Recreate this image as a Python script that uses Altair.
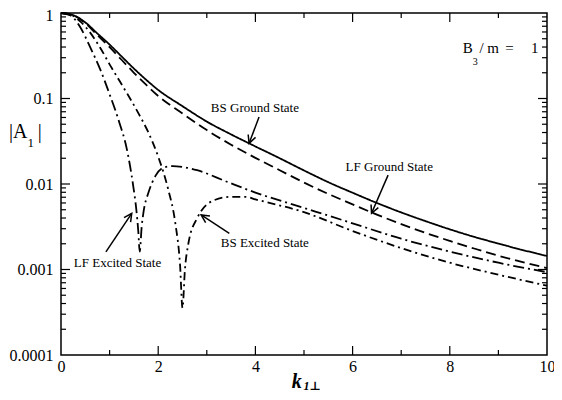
import math
import altair as alt
import pandas as pd

# ---------------- data ----------------
bs_ground_x = [0, 0.25, 0.5, 0.75, 1.0, 1.25, 1.5, 1.75, 2.0, 2.5, 3.0, 3.5, 4.0, 4.5, 5.0,
               5.5, 6.0, 6.5, 7.0, 7.5, 8.0, 8.5, 9.0, 9.5, 10]
bs_ground_y = [1, 0.944, 0.776, 0.575, 0.427, 0.309, 0.224, 0.166, 0.126, 0.0813, 0.0537,
               0.0380, 0.0275, 0.0200, 0.0144, 0.0105, 0.00790, 0.00600, 0.00465, 0.00368,
               0.00295, 0.00241, 0.00201, 0.00169, 0.00144]

lf_ground_x = [0, 0.25, 0.5, 0.75, 1.0, 1.25, 1.5, 1.75, 2.0, 2.5, 3.0, 3.5, 4.0, 4.5, 5.0,
               5.5, 6.0, 6.5, 7.0, 7.5, 8.0, 8.5, 9.0, 9.5, 10]
lf_ground_y = [1, 0.940, 0.759, 0.550, 0.398, 0.282, 0.200, 0.145, 0.107, 0.0668, 0.0427,
               0.0288, 0.0202, 0.0145, 0.0104, 0.00765, 0.00578, 0.00438, 0.00340, 0.00268,
               0.00216, 0.00176, 0.00145, 0.00122, 0.00104]

lf_excited_x = [0, 0.2, 0.4, 0.6, 0.8, 1.0, 1.2, 1.35, 1.48, 1.55, 1.59, 1.62, 1.66, 1.70,
                1.8, 1.95, 2.1, 2.3, 2.5, 2.8, 3.4, 4.0, 5.0, 6.0, 7.0, 8.0, 9.0, 10]
lf_excited_y = [1, 0.933, 0.676, 0.398, 0.224, 0.112, 0.0525, 0.0263, 0.0100, 0.0050,
                0.00282, 0.00162, 0.00316, 0.00479, 0.00794, 0.0126, 0.0155, 0.0162, 0.0158,
                0.0145, 0.0107, 0.00794, 0.00525, 0.00347, 0.00229, 0.00162, 0.00120, 0.00093]

bs_excited_x = [0, 0.2, 0.4, 0.6, 0.8, 1.0, 1.2, 1.4, 1.6, 1.8, 2.0, 2.2, 2.35, 2.45, 2.5,
                2.55, 2.62, 2.8, 3.15, 3.5, 3.8, 4.0, 5.0, 6.0, 7.0, 8.0, 9.0, 10]
bs_excited_y = [1, 0.955, 0.794, 0.589, 0.398, 0.251, 0.162, 0.105, 0.0661, 0.0398, 0.0209,
                0.0089, 0.00355, 0.00112, 0.000355, 0.0010, 0.0020, 0.00398, 0.00646, 0.00708,
                0.00708, 0.00661, 0.00468, 0.00282, 0.00178, 0.00120, 0.00087, 0.000646]

series_names = ["BS Ground State", "LF Ground State", "LF Excited State", "BS Excited State"]
series_dash = [[1, 0], [10, 5], [11, 4, 2, 4], [8, 4, 2, 4]]

x_tick_labels = [0, 2, 4, 6, 8, 10]
x_minor = [1, 3, 5, 7, 9]
y_tick_labels = [1, 0.1, 0.01, 0.001, 0.0001]
y_minor_mantissa = [2, 3, 4, 5, 6, 7, 8, 9]
y_decades = [0.0001, 0.001, 0.01, 0.1]

# annotation labels (centre, in data coordinates)
ann_text = ["BS Ground State", "LF Ground State", "BS Excited State", "LF Excited State"]
ann_x = [3.99, 6.755, 4.194, 1.163]
ann_y = [0.0774, 0.0159, 0.00204, 0.00119]
# arrows tail -> tip
arr_x = [4.075, 6.73, 3.463, 0.924]
arr_y = [0.0608, 0.0127, 0.00265, 0.00161]
arr_x2 = [3.87, 6.39, 2.884, 1.455]
arr_y2 = [0.0299, 0.00454, 0.00434, 0.00454]

# pieces of text with subscripts (left aligned, on baseline)
piece_text = ["B", "3", "/ m", "=", "1", "|A", "1", "|"]
piece_x = [8.265, 8.47, 8.61, 9.14, 9.67, -1.07, -0.69, -0.48]
piece_y = [0.338, 0.246, 0.338, 0.338, 0.338, 0.0342, 0.0271, 0.0342]
piece_size = [15, 10, 15, 15, 15, 20, 13, 20]

xtitle_text = ["k", "1\u22a5"]
xtitle_x = [4.75, 4.99]
xtitle_y = [4.11e-5, 3.85e-5]
xtitle_size = [20, 12]

# ---------------- chart ----------------
W, H = 486, 342
FONT = "Liberation Serif, Times New Roman, Times, DejaVu Serif, serif"
xs = alt.Scale(domain=[0, 10], nice=False, zero=False)
ys = alt.Scale(type="log", domain=[0.0001, 1], nice=False)
xaxis = alt.Axis(values=x_tick_labels, title=None, ticks=False, domain=False, grid=False,
                 labelFont=FONT, labelFontSize=16, labelColor="black", labelPadding=3,
                 labelFlush=False, labelOverlap=False)
yaxis = alt.Axis(values=y_tick_labels, format="~g", title=None, ticks=False, domain=False,
                 grid=False, labelFont=FONT, labelFontSize=16, labelColor="black",
                 labelPadding=8, labelFlush=False, labelOverlap=False,
                 labelOffset={"condition": {"test": "datum.value >= 1", "value": 2}, "value": 0})


def X(f):
    return alt.X(f, type="quantitative", scale=xs, axis=xaxis)


def Y(f):
    return alt.Y(f, type="quantitative", scale=ys, axis=yaxis)


rows = []
for name, xv, yv in zip(series_names,
                        [bs_ground_x, lf_ground_x, lf_excited_x, bs_excited_x],
                        [bs_ground_y, lf_ground_y, lf_excited_y, bs_excited_y]):
    for a, b in zip(xv, yv):
        rows.append({"series": name, "x": a, "y": b})
curves = pd.DataFrame(rows)

lines = alt.Chart(curves).mark_line(color="black", strokeWidth=1.8, interpolate="monotone").encode(
    x=X("x"), y=Y("y"),
    strokeDash=alt.StrokeDash("series:N", scale=alt.Scale(domain=series_names, range=series_dash),
                              legend=None),
    detail="series:N",
)


def vticks(vals, length, top):
    df = pd.DataFrame({"x": vals})
    y0, y1 = (0, length) if top else (H, H - length)
    return alt.Chart(df).mark_rule(color="black", strokeWidth=1.2).encode(
        x=X("x"), y=alt.value(y0), y2=alt.value(y1))


def hticks(vals, length, right):
    df = pd.DataFrame({"y": vals})
    x0, x1 = (W, W - length) if right else (0, length)
    return alt.Chart(df).mark_rule(color="black", strokeWidth=1.2).encode(
        y=Y("y"), x=alt.value(x0), x2=alt.value(x1))


y_minor = [m * d for d in y_decades for m in y_minor_mantissa]
y_major = [0.001, 0.01, 0.1]
x_major = [2, 4, 6, 8]
ticks = [vticks(x_major, 9, False), vticks(x_minor, 5, False),
         vticks(x_major, 9, True), vticks(x_minor, 5, True),
         hticks(y_major, 9, False), hticks(y_minor, 5, False),
         hticks(y_major, 9, True), hticks(y_minor, 5, True)]


def angle(x0, y0, x1, y1):
    dx = (x1 - x0) * W / 10
    dy = -(math.log10(y1) - math.log10(y0)) * H / 4
    return math.degrees(math.atan2(dx, -dy)) % 360


arrows = pd.DataFrame({"x": arr_x, "y": arr_y, "x2": arr_x2, "y2": arr_y2,
                       "angle": [angle(a, b, c, d) for a, b, c, d in zip(arr_x, arr_y, arr_x2, arr_y2)]})
arrow_lines = alt.Chart(arrows).mark_rule(color="black", strokeWidth=1.5).encode(
    x=X("x"), y=Y("y"), x2="x2", y2="y2")
arrow_heads = alt.Chart(arrows).mark_point(
    shape="M-0.5,1L0,0L0.5,1", filled=False, size=250, strokeWidth=1.5, color="black", opacity=1
).encode(x=X("x2"), y=Y("y2"), angle=alt.Angle("angle:Q", scale=None))

ann = alt.Chart(pd.DataFrame({"t": ann_text, "x": ann_x, "y": ann_y})).mark_text(
    font=FONT, fontSize=13, color="black", align="center", baseline="middle"
).encode(x=X("x"), y=Y("y"), text="t:N")

pieces = alt.Chart(pd.DataFrame({"t": piece_text, "x": piece_x, "y": piece_y, "s": piece_size})).mark_text(
    font=FONT, color="black", align="left", baseline="alphabetic", clip=False
).encode(x=X("x"), y=Y("y"), text="t:N", size=alt.Size("s:Q", scale=None))

xtitle = alt.Chart(pd.DataFrame({"t": xtitle_text, "x": xtitle_x, "y": xtitle_y, "s": xtitle_size})).mark_text(
    font=FONT, color="black", align="left", baseline="alphabetic", fontWeight="bold",
    fontStyle="italic", clip=False
).encode(x=X("x"), y=Y("y"), text="t:N", size=alt.Size("s:Q", scale=None))

chart = alt.layer(lines, *ticks, arrow_lines, arrow_heads, ann, pieces, xtitle).properties(
    width=W, height=H, autosize="none",
    padding={"left": 53, "top": 5, "right": 7, "bottom": 37},
    background="white",
).configure_view(stroke="black", strokeWidth=1.5).configure_axis(
    labelFont=FONT, labelFontSize=16, labelColor="black"
).configure_text(font=FONT)

chart.save("out.html", embed_options={"renderer": "svg", "actions": False})
